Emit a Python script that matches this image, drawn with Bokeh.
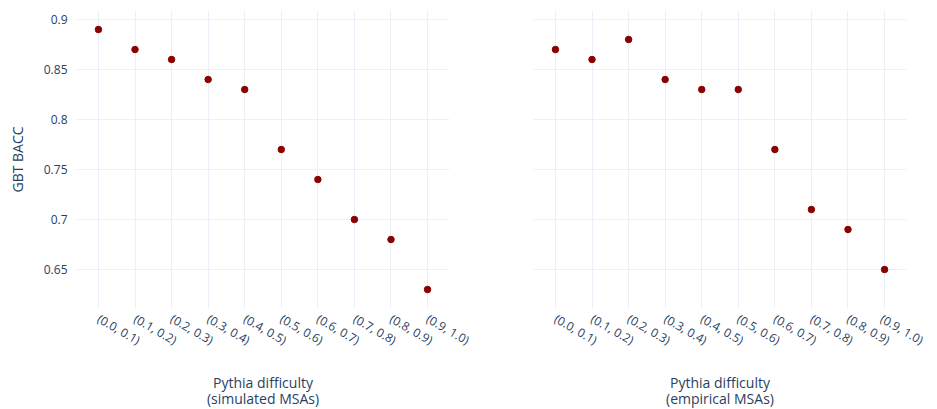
from bokeh.plotting import figure
from bokeh.layouts import row
from bokeh.models import Range1d, FixedTicker
from bokeh.embed import file_html
from bokeh.resources import INLINE
import math

categories = ["(0.0, 0.1)", "(0.1, 0.2)", "(0.2, 0.3)", "(0.3, 0.4)", "(0.4, 0.5)",
              "(0.5, 0.6)", "(0.6, 0.7)", "(0.7, 0.8)", "(0.8, 0.9)", "(0.9, 1.0)"]
bacc_simulated = [0.89, 0.87, 0.86, 0.84, 0.83, 0.77, 0.74, 0.70, 0.68, 0.63]
bacc_empirical = [0.87, 0.86, 0.88, 0.84, 0.83, 0.83, 0.77, 0.71, 0.69, 0.65]
y_ticks = [0.65, 0.7, 0.75, 0.8, 0.85, 0.9]
y_tick_labels = ["0.65", "0.7", "0.75", "0.8", "0.85", "0.9"]

FONT = "Open Sans"
TXT = "#2a3f5f"
GRID = "#EBF0F8"
idx = list(range(len(categories)))


def make(values, xtitle, show_y, bl, br):
    p = figure(frame_width=373, frame_height=298, output_backend="svg",
               toolbar_location=None, x_range=Range1d(-0.6, 9.6),
               y_range=Range1d(0.611, 0.909),
               min_border_left=bl, min_border_right=br, min_border_top=10,
               min_border_bottom=4)
    p.outline_line_color = None
    p.background_fill_color = "white"
    p.scatter(idx, values, size=6.5, color="#8B0000", line_color="#8B0000")
    p.xaxis.ticker = FixedTicker(ticks=idx)
    p.xaxis.major_label_overrides = {i: c for i, c in enumerate(categories)}
    p.xaxis.major_label_orientation = -math.pi / 6
    p.yaxis.ticker = FixedTicker(ticks=y_ticks)
    p.yaxis.major_label_overrides = {t: l for t, l in zip(y_ticks, y_tick_labels)}
    for ax in (p.xaxis[0], p.yaxis[0]):
        ax.axis_line_color = None
        ax.major_tick_line_color = None
        ax.minor_tick_line_color = None
        ax.major_label_text_font = FONT
        ax.major_label_text_font_size = "12px"
        ax.major_label_text_color = TXT
        ax.axis_label_text_font = FONT
        ax.axis_label_text_font_size = "14px"
        ax.axis_label_text_color = TXT
        ax.axis_label_text_font_style = "normal"
        ax.axis_label_text_line_height = 0.85
    p.xaxis.axis_label = xtitle
    p.xaxis.major_label_standoff = 3
    p.xaxis.axis_label_standoff = 14
    p.yaxis.major_label_standoff = 3
    if show_y:
        p.yaxis.axis_label = "GBT BACC"
        p.yaxis.axis_label_standoff = 14
    else:
        p.yaxis.visible = False
    p.xgrid.grid_line_color = GRID
    p.ygrid.grid_line_color = GRID
    p.xgrid.grid_line_width = 1
    p.ygrid.grid_line_width = 1
    return p


p1 = make(bacc_simulated, "Pythia difficulty\n(simulated MSAs)", True, 76, 40)
p2 = make(bacc_empirical, "Pythia difficulty\n(empirical MSAs)", False, 44, 20)
layout = row(p1, p2)
open("out.html", "w").write(file_html(layout, INLINE))
